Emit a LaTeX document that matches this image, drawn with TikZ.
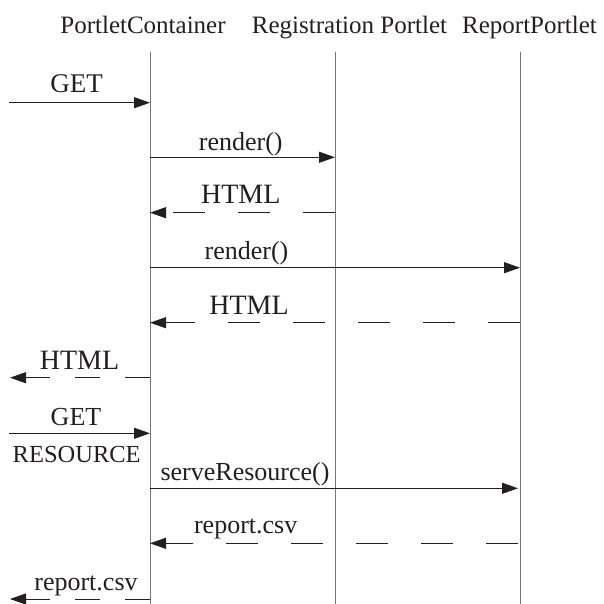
\documentclass[tikz,border=0pt]{standalone}
\usepackage{fontspec}
\setmainfont{Liberation Serif}
\usepackage{xcolor}
\usepackage{tikz}
\usetikzlibrary{arrows.meta, positioning, calc}

\definecolor{inkgray}{HTML}{231F20}
\definecolor{lifegray}{HTML}{767676}

\begin{document}
\begin{tikzpicture}[
  x=1pt, y=-1pt,
  font=\fontsize{26}{30}\selectfont, text=inkgray,
  actor/.style={anchor=base, inner sep=0pt, font=\fontsize{25}{29}\selectfont},
  lbl/.style={anchor=base, inner sep=0pt},
  big/.style={font=\fontsize{28}{32}\selectfont},
  life/.style={draw=lifegray, line width=1pt},
  msg/.style={draw=inkgray, line width=1pt, -{Triangle[length=16pt, width=11pt]}},
  ret/.style={msg, dash pattern=on 32.5pt off 32.5pt},
  retout/.style={msg, dash pattern=on 25pt off 25pt}
]
\useasboundingbox (0,0) rectangle (603,604);
% Teilnehmer
\node[actor] (pc) at (143,34) {PortletContainer};
\node[actor] (rg) at (349.5,34) {Registration Portlet};
\node[actor] (rp) at (529.5,34) {ReportPortlet};
\coordinate (pcT) at (150,52);  \coordinate (pcB) at (150,604);
\coordinate (rgT) at (335,52);  \coordinate (rgB) at (335,604);
\coordinate (rpT) at (520,52);  \coordinate (rpB) at (520,604);
\draw[life] (pcT) -- (pcB);
\draw[life] (rgT) -- (rgB);
\draw[life] (rpT) -- (rpB);
% Nachrichten
\coordinate (in1) at (9,102.7);
\draw[msg] (in1) -- (in1 -| pcT);
\node[lbl, font=\fontsize{27}{30}\selectfont] (get1) at (76.7,92.7) {GET};
\coordinate (y2) at (0,157.3);
\draw[msg] (pcT |- y2) -- (rgT |- y2);
\node[lbl] (rnd1) at (240.7,150) {render()};
\coordinate (y3) at (0,212.7);
\draw[ret] (rgT |- y3) -- (pcT |- y3);
\node[lbl, big] (html1) at (240.7,203.3) {HTML};
\coordinate (y4) at (0,267.7);
\draw[msg] (pcT |- y4) -- (rpT |- y4);
\node[lbl] (rnd2) at (246.5,259.3) {render()};
\coordinate (y5) at (0,322.7);
\draw[ret] (rpT |- y5) -- (pcT |- y5);
\node[lbl, big] (html2) at (249,314) {HTML};
\coordinate (out1) at (10,377.7);
\draw[retout] (out1 -| pcT) -- (out1);
\node[lbl, big] (html3) at (79.5,369) {HTML};
\coordinate (in2) at (9,433.3);
\draw[msg] (in2) -- (in2 -| pcT);
\node[lbl] (get2) at (76,425) {GET};
\node[lbl, font=\fontsize{24.5}{28}\selectfont] (res) at (76.7,462.7) {RESOURCE};
\coordinate (y8) at (0,488.3);
\draw[msg, shorten >=2pt] (pcT |- y8) -- (rpT |- y8);
\node[lbl] (srv) at (245,480) {serveResource()};
\coordinate (y9) at (0,543.3);
\draw[ret, shorten <=2pt] (rpT |- y9) -- (pcT |- y9);
\node[lbl] (csv1) at (245.7,533.3) {report.csv};
\coordinate (out2) at (10,599);
\draw[retout] (out2 -| pcT) -- (out2);
\node[lbl] (csv2) at (86,590) {report.csv};
\end{tikzpicture}
\end{document}
